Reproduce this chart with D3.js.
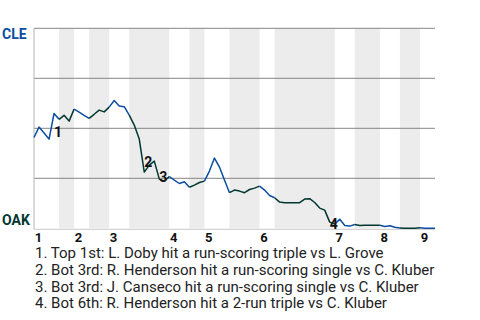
<!DOCTYPE html>
<html>
<head>
<meta charset="utf-8">
<script src="https://cdn.jsdelivr.net/npm/d3@7"></script>
<style>
  body { margin: 0; background: #fff; }
  svg { font-family: Roboto, "Noto Sans", sans-serif; display: block; }
</style>
</head>
<body>
<div id="chart"></div>
<script>
// cumulative event count at the end of each half-inning (top 1, bot 1, top 2, ...)
var halfEnds = [5, 8, 11, 15, 19, 27, 31, 34, 39, 45, 48, 60, 64, 69, 73, 77, 80];
var innings = ["1", "2", "3", "4", "5", "6", "7", "8", "9"];
// CLE win probability (%) after each event
var cleWin = [45.4, 50.6, 47.6, 44.6, 57.4, 54.5, 56.5, 53.6, 59.6, 58.1,
  56.5, 55.0, 57.0, 59.1, 58.2, 60.6, 63.9, 61.1, 60.8, 56.6,
  51.6, 44.6, 28.1, 31.6, 33.6, 24.6, 23.6, 25.9, 24.1, 22.4,
  23.3, 20.5, 21.6, 22.9, 23.6, 28.6, 35.1, 30.6, 24.1, 17.8,
  19.1, 18.6, 17.8, 19.4, 20.1, 21.1, 19.1, 16.4, 15.3, 13.1,
  12.8, 12.8, 12.8, 12.8, 14.6, 14.8, 12.9, 10.1, 9.1, 3.1,
  2.1, 4.5, 1.4, 1.1, 1.9, 1.4, 1.5, 1.5, 1.5, 1.5,
  0.9, 1.3, 0.5, 0.2, 0, 0, 0, 0.3, 0, 0, 0];
var gridPct = [100, 75, 50, 25];
var noteEvent = [4, 22, 25, 59];
var noteLabelPct = [48.2, 33.2, 25.7, 2.4];
var notes = [
  "1. Top 1st: L. Doby hit a run-scoring triple vs L. Grove",
  "2. Bot 3rd: R. Henderson hit a run-scoring single vs C. Kluber",
  "3. Bot 3rd: J. Canseco hit a run-scoring single vs C. Kluber",
  "4. Bot 6th: R. Henderson hit a 2-run triple vs C. Kluber"
];

var W = 480, H = 320;
var margin = {left: 34, top: 28.3};
var pw = 401, ph = 200;
var cleColor = '#0b4ea2', oakColor = '#003831';

var svg = d3.select('#chart').append('svg').attr('width', W).attr('height', H);

var x = d3.scaleLinear().domain([0, 80]).range([margin.left, margin.left + pw]);
var y = d3.scaleLinear().domain([0, 100]).range([margin.top + ph, margin.top]);

var halves = halfEnds.map(function(e, i) {
  return {start: i === 0 ? 0 : halfEnds[i - 1], end: e, top: i % 2 === 0};
});

// shaded bottom halves
svg.append('g').selectAll('rect')
  .data(halves.filter(function(h) { return !h.top; }))
  .enter().append('rect')
  .attr('x', function(h) { return x(h.start); })
  .attr('width', function(h) { return x(h.end) - x(h.start); })
  .attr('y', y(100))
  .attr('height', y(0) - y(100))
  .attr('fill', '#ececec');

// grid lines
svg.append('g').selectAll('line')
  .data(gridPct).enter().append('line')
  .attr('x1', x(0)).attr('x2', x(80))
  .attr('y1', function(d) { return y(d); })
  .attr('y2', function(d) { return y(d); })
  .attr('stroke', '#858585').attr('stroke-width', 1);

svg.append('line')
  .attr('x1', x(0)).attr('x2', x(0))
  .attr('y1', y(100)).attr('y2', y(0) + 1)
  .attr('stroke', '#b5b5b5');
svg.append('line')
  .attr('x1', x(0)).attr('x2', x(80))
  .attr('y1', y(0) + 1).attr('y2', y(0) + 1)
  .attr('stroke', '#c8c8c8');

// win probability line, coloured by team at bat
var line = d3.line()
  .x(function(d) { return x(d.k); })
  .y(function(d) { return y(d.p); });

svg.append('g').selectAll('path')
  .data(halves).enter().append('path')
  .attr('d', function(h) {
    var pts = d3.range(h.start, h.end + 1).map(function(k) { return {k: k, p: cleWin[k]}; });
    return line(pts);
  })
  .attr('fill', 'none')
  .attr('stroke', function(h) { return h.top ? cleColor : oakColor; })
  .attr('stroke-width', 1.5)
  .attr('stroke-linejoin', 'round');

// annotation numbers
svg.append('g').selectAll('text')
  .data(noteEvent).enter().append('text')
  .attr('x', function(k) { return x(k) + 4; })
  .attr('y', function(k, i) { return y(noteLabelPct[i]); })
  .attr('dy', '0.36em')
  .attr('text-anchor', 'middle')
  .attr('font-size', 14).attr('font-weight', 'bold').attr('fill', '#111')
  .text(function(k, i) { return i + 1; });

// team labels
svg.append('text').attr('x', 2).attr('y', y(100) + 11)
  .attr('font-size', 14).attr('font-weight', 'bold').attr('fill', cleColor).text('CLE');
svg.append('text').attr('x', 2).attr('y', y(0) - 3)
  .attr('font-size', 14).attr('font-weight', 'bold').attr('fill', oakColor).text('OAK');

// inning labels at start of each top half
svg.append('g').selectAll('text')
  .data(innings).enter().append('text')
  .attr('x', function(d, i) { return x(halves[i * 2].start) + 4.4; })
  .attr('y', y(0) + 13.4)
  .attr('text-anchor', 'middle')
  .attr('font-size', 13).attr('font-weight', 'bold').attr('fill', '#111')
  .text(function(d) { return d; });

// notes
svg.append('g').selectAll('text')
  .data(notes).enter().append('text')
  .attr('x', 35)
  .attr('y', function(d, i) { return 258.3 + i * 16.7; })
  .attr('font-size', 15).attr('fill', '#222')
  .text(function(d) { return d; });
</script>
</body>
</html>
